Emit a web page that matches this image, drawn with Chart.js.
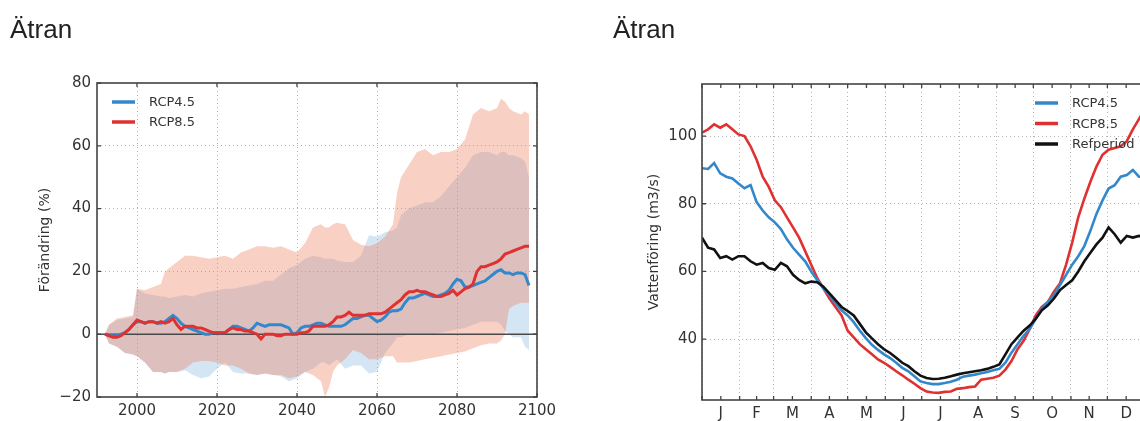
<!DOCTYPE html>
<html><head><meta charset="utf-8">
<script src="https://cdn.jsdelivr.net/npm/chart.js@4.4.0/dist/chart.umd.min.js"></script>
<style>
html,body{margin:0;padding:0;background:#fff;width:1140px;height:421px;overflow:hidden;position:relative;}
.title{position:absolute;font-family:'Liberation Sans',Arial,sans-serif;font-size:26px;line-height:26px;color:#222;top:16px;}
#w1{position:absolute;left:0;top:0;width:600px;height:421px;}
#w2{position:absolute;left:600px;top:0;width:560px;height:421px;}
</style></head><body>
<div id="w1"><canvas id="c1" width="600" height="421"></canvas></div>
<div id="w2"><canvas id="c2" width="560" height="421"></canvas></div>
<div class="title" style="left:10px">Ätran</div>
<div class="title" style="left:613px">Ätran</div>
<script>
// ---------- Left chart data (Förändring %) ----------
const years = [1992,1993,1994,1995,1996,1997,1998,1999,
 2000,2001,2002,2003,2004,2005,2006,2007,2008,2009,
 2010,2011,2012,2013,2014,2015,2016,2017,2018,2019,
 2020,2021,2022,2023,2024,2025,2026,2027,2028,2029,
 2030,2031,2032,2033,2034,2035,2036,2037,2038,2039,
 2040,2041,2042,2043,2044,2045,2046,2047,2048,2049,
 2050,2051,2052,2053,2054,2055,2056,2057,2058,2059,
 2060,2061,2062,2063,2064,2065,2066,2067,2068,2069,
 2070,2071,2072,2073,2074,2075,2076,2077,2078,2079,
 2080,2081,2082,2083,2084,2085,2086,2087,2088,2089,
 2090,2091,2092,2093,2094,2095,2096,2097,2098];
const rcp45 = [0,-0.3,-0.5,-0.5,0,0.5,1.5,3,
 4,4,3.5,4,4,3.5,3.5,4,5,6,
 5,3.5,2.5,2,1.5,1,0.5,0,0,0.5,
 0.5,0.5,0.5,1.5,2.5,2.5,2,1.5,1,2,
 3.5,3,2.5,3,3,3,3,2.5,2,0,
 0.5,2,2.5,2.5,3,3.5,3.5,3,2.5,2.5,
 2.5,2.5,3,4,5,5,5.5,6,6,5,
 4,4.5,5.5,7,7.5,7.5,8,10,11.5,11.5,
 12,12.5,13,12.5,12,12,12.5,13,14,16,
 17.5,17,15,15,15.5,16,16.5,17,18,19,
 20,20.5,19.5,19.5,19,19.5,19.5,19,15.5];
const rcp85 = [0,-0.5,-1,-1,-0.5,0.5,1.5,3,
 4.5,4,3.5,4,4,3.5,4,3.5,4,5,
 3,1.5,2.5,2.5,2.5,2,2,1.5,1,0.5,
 0.5,0.5,0.5,1.5,2,1.5,1.5,1,1,0.5,
 0,-1.5,0,0,0,-0.5,-0.5,0,0,0,
 0,0.5,0.5,1,2.5,2.5,2.5,2.5,3,4,
 5.5,5.5,6,7,6,6,6,6,6.5,6.5,
 6.5,6.5,7,8,9,10,11,12.5,13.5,13.5,
 14,13.5,13.5,13,12.5,12,12,12.5,13,14,
 12.5,13.5,14.5,15,16,20,21.5,21.5,22,22.5,
 23,24,25.5,26,26.5,27,27.5,28,28];
const bandYears = [1992,1993,1995,1997,1999,
 2000,2002,2004,2006,2007,2008,
 2010,2012,2014,2016,2018,
 2020,2022,2024,2026,2028,
 2030,2032,2034,2036,2038,
 2040,2042,2044,2046,2047,2048,2049,
 2050,2052,2054,2056,2058,
 2060,2062,2064,2065,2066,2068,
 2070,2072,2074,2076,2078,
 2080,2082,2084,2086,2088,
 2090,2091,2092,2093,2094,2096,2097,2098];
const band85Upper = [0,3,5,5.5,6, 14.5,14,15,16,20,21, 23,25,25,24.5,24, 24.5,25,24,26,27, 28,28,27.5,28,27, 26,29,34,35,34,34,35, 35.5,35,30,28.5,28, 29,31,35,45,50,54, 58,59,57,58,58, 59,62,70,72,71, 72,75,74,72,71,70,71,70];
const band85Lower = [0,-3,-4,-6,-6.5, -7,-9,-12,-12,-12.5,-12, -12,-11,-9,-8.5,-8.5, -9,-10,-10,-11,-12.5, -13,-12.5,-13,-13,-14, -13.5,-12,-13,-15,-20,-17,-12, -10,-8,-5,-6,-8, -8,-7,-7,-9,-9,-9, -8.5,-8,-7.5,-7,-6.5, -6,-5.5,-4.5,-3.5,-3, -3,-2,0,8,9,10,10,10];
const band45Upper = [0,3,4.5,5,5.5, 14.5,13,12.5,12,12,11.5, 12,12.5,12,13,13.5, 14,14.5,14.5,15,15.5, 16,17,17,19,21, 22,24,25,24.5,24,24,24, 23.5,23,23,25,31.5, 31,32.5,33,34,38,40, 41,42,42,44,47, 50,53,57,58,58, 57,58,58,57,57,56,55,50];
const band45Lower = [0,-3,-4,-6,-6.5, -7,-9,-12,-12,-12.5,-12, -12,-11.5,-13,-14,-13.5, -11,-9,-12,-12.5,-12.5, -13,-12.5,-13,-13.5,-15, -14,-12,-11,-9,-9,-10,-9, -8,-11,-10,-10,-12.5, -12,-6,-3,-1,-1,0, 0,0,0,0.5,1, 1.5,2,3,4,4, 4,3,1,0,-1,-1,-4,-5];
const yearTicks = [2000,2020,2040,2060,2080,2100];
const pctTicks = [-20,0,20,40,60,80];
const yearRange = [1990,2100];

// ---------- Right chart data (Vattenföring m3/s) ----------
const days = [0,5,10,15,20,25,30,35,40,45,50,55,60,65,70,75,80,85,90,95,
 100,105,110,115,120,125,130,135,140,145,150,155,160,165,170,175,180,185,190,195,
 200,205,210,215,220,225,230,235,240,245,250,255,260,265,270,275,280,285,290,295,
 300,305,310,315,320,325,330,335,340,345,350,355,360,365];
const flow45 = [90.5,90.3,92,89,88,87.5,86,84.6,85.5,80.5,
 78,76,74.5,72.5,69.5,67,65,63,60,57.4,
 55,53,50.6,48.5,47,45,42.5,40.3,38.3,36.8,
 35.5,34.4,33,31.5,30.5,29,27.5,27,26.7,26.7,
 27,27.4,28,28.9,29.2,29.5,29.9,30.3,30.8,31.2,
 33,36,38.5,41,43,46,49,51,53,56,
 59,62,64.5,67.5,72,77,81,84.5,85.5,88,
 88.5,90,88,88];
const flow85 = [101,102,103.5,102.5,103.5,102,100.5,100,97,93,
 88,85,81,79,76,73,70,66,62,58,
 55,52,49.5,47,42.5,40.5,38.5,37,35.5,34,
 33,31.8,30.5,29.3,28,26.8,25.5,24.5,24.2,24.1,
 24.4,24.5,25.3,25.5,25.8,26,28,28.3,28.6,29.2,
 31,33.5,37,39.5,43,47,49.5,51,54,56.5,
 62,68.5,76,81.5,86.5,91,94.5,96,96.5,97,
 98.5,102,105,108];
const flowRef = [70,67,66.5,64,64.5,63.5,64.5,64.5,63,62,
 62.5,61,60.5,62.5,61.5,59,57.5,56.5,57,56.8,
 55.5,53.5,51.5,49.5,48.3,47,44.5,42,40.2,38.5,
 37,35.9,34.5,33,32,30.5,29.2,28.5,28.2,28.3,
 28.6,29,29.5,29.9,30.2,30.5,30.8,31.2,31.8,32.5,
 35.5,38.5,40.5,42.5,44,46,48.5,50,52,54.5,
 56,57.4,60,63,65.5,68,70,73,71,68.5,
 70.5,70,70.5,70];
const monthStarts = [0,31,59,90,120,151,181,212,243,273,304,334,365];
const monthLabels = ['J','F','M','A','M','J','J','A','S','O','N','D'];
const flowTicks = [40,60,80,100];
const flowRange = [22,115.4];

// ---------- helpers ----------
const pts = (xs, ys) => xs.map((x, i) => ({x: x, y: ys[i]}));
Chart.defaults.font.family = "'DejaVu Sans', sans-serif";
Chart.defaults.color = '#333';

const framePlugin = {
  id: 'frame',
  afterDatasetsDraw(chart) {
    const ctx = chart.ctx, a = chart.chartArea;
    ctx.save();
    ctx.strokeStyle = '#444'; ctx.lineWidth = 1.3;
    const xs = chart.scales.x, ys = chart.scales.y;
    ctx.beginPath();
    xs.ticks.forEach(t => {
      const px = xs.getPixelForValue(t.value);
      ctx.moveTo(px, a.bottom); ctx.lineTo(px, a.bottom - 4);
      ctx.moveTo(px, a.top); ctx.lineTo(px, a.top + 4);
    });
    ys.ticks.forEach(t => {
      const py = ys.getPixelForValue(t.value);
      ctx.moveTo(a.left, py); ctx.lineTo(a.left + 4, py);
      ctx.moveTo(a.right, py); ctx.lineTo(a.right - 4, py);
    });
    ctx.stroke();
    ctx.lineWidth = 1.6;
    ctx.strokeRect(a.left, a.top, a.right - a.left, a.bottom - a.top);
    ctx.restore();
  }
};
const legendPlugin = {
  id: 'insideLegend',
  afterDraw(chart, args, o) {
    const ctx = chart.ctx, a = chart.chartArea;
    ctx.save();
    ctx.font = "13px 'DejaVu Sans'";
    ctx.textBaseline = 'middle';
    let y = a.top + o.dy;
    const x = a.left + o.dx;
    chart.data.datasets.forEach(ds => {
      if (!ds.inLegend) return;
      ctx.strokeStyle = ds.borderColor; ctx.lineWidth = 3.5;
      ctx.beginPath(); ctx.moveTo(x, y); ctx.lineTo(x + 23, y); ctx.stroke();
      ctx.fillStyle = '#333';
      ctx.fillText(ds.label, x + 37, y + 1);
      y += o.row;
    });
    ctx.restore();
  }
};
const gridCommon = {color: '#b5b5b5', lineWidth: 1, drawTicks: false};
const borderCommon = {display: false, dash: [1, 3]};
const tickFont = {size: 15};

// ---------- Left chart ----------
new Chart(document.getElementById('c1'), {
  type: 'line',
  data: {datasets: [
    {label: 'RCP4.5', data: pts(years, rcp45), borderColor: '#3388cc', borderWidth: 3, pointRadius: 0, fill: false, order: 1, inLegend: true},
    {label: 'RCP8.5', data: pts(years, rcp85), borderColor: '#e03131', borderWidth: 3, pointRadius: 0, fill: false, order: 0, inLegend: true},
    {label: 'zero', data: pts(yearRange, [0, 0]), borderColor: '#4a4a4a', borderWidth: 1.5, pointRadius: 0, fill: false, order: 2},
    {label: 'b85u', data: pts(bandYears, band85Upper), borderWidth: 0, borderColor: 'rgba(0,0,0,0)', pointRadius: 0, fill: '+1', backgroundColor: 'rgba(238,125,92,0.36)', order: 3},
    {label: 'b85l', data: pts(bandYears, band85Lower), borderWidth: 0, borderColor: 'rgba(0,0,0,0)', pointRadius: 0, fill: false, order: 3},
    {label: 'b45u', data: pts(bandYears, band45Upper), borderWidth: 0, borderColor: 'rgba(0,0,0,0)', pointRadius: 0, fill: '+1', backgroundColor: 'rgba(100,160,215,0.28)', order: 4},
    {label: 'b45l', data: pts(bandYears, band45Lower), borderWidth: 0, borderColor: 'rgba(0,0,0,0)', pointRadius: 0, fill: false, order: 4}
  ]},
  options: {
    responsive: false, animation: false,
    layout: {padding: {left: 0, right: 63, top: 83, bottom: 0}},
    plugins: {legend: {display: false}, tooltip: {enabled: false}, insideLegend: {dx: 15, dy: 19, row: 20}},
    scales: {
      x: {type: 'linear', min: yearRange[0], max: yearRange[1],
        afterBuildTicks: s => { s.ticks = yearTicks.map(v => ({value: v})); },
        afterFit: s => { s.height = 24; },
        grid: gridCommon, border: borderCommon,
        ticks: {font: tickFont, color: '#333', padding: 5, maxRotation: 0, autoSkip: false, callback: v => String(v)}},
      y: {type: 'linear', min: pctTicks[0], max: pctTicks[pctTicks.length - 1],
        afterBuildTicks: s => { s.ticks = pctTicks.map(v => ({value: v})); },
        afterFit: s => { s.width = 97; },
        grid: gridCommon, border: borderCommon,
        title: {display: true, text: 'Förändring (%)', font: {size: 14}, color: '#333', padding: {top: 37, bottom: 0}},
        ticks: {font: tickFont, color: '#333', padding: 6, callback: v => String(v).replace('-', '\u2212')}}
    }
  },
  plugins: [framePlugin, legendPlugin]
});

// ---------- Right chart ----------
const monthCenters = monthLabels.map((m, i) => (monthStarts[i] + monthStarts[i + 1]) / 2);
const xTickVals = monthStarts.concat(monthCenters).sort((a, b) => a - b);
new Chart(document.getElementById('c2'), {
  type: 'line',
  data: {datasets: [
    {label: 'RCP4.5', data: pts(days, flow45), borderColor: '#3388cc', borderWidth: 2.6, pointRadius: 0, fill: false, order: 1, inLegend: true},
    {label: 'RCP8.5', data: pts(days, flow85), borderColor: '#e03131', borderWidth: 2.6, pointRadius: 0, fill: false, order: 2, inLegend: true},
    {label: 'Refperiod', data: pts(days, flowRef), borderColor: '#111111', borderWidth: 2.6, pointRadius: 0, fill: false, order: 0, inLegend: true}
  ]},
  options: {
    responsive: false, animation: false,
    layout: {padding: {left: 0, right: 15, top: 84, bottom: 0}},
    plugins: {legend: {display: false}, tooltip: {enabled: false}, insideLegend: {dx: 333, dy: 19, row: 20.5}},
    scales: {
      x: {type: 'linear', min: 0, max: 365,
        afterBuildTicks: s => { s.ticks = xTickVals.map(v => ({value: v})); },
        afterFit: s => { s.height = 21; },
        grid: {color: ctx => (ctx.tick && monthStarts.includes(ctx.tick.value)) ? '#b5b5b5' : 'rgba(0,0,0,0)', lineWidth: 1, drawTicks: false},
        border: borderCommon,
        ticks: {font: tickFont, color: '#333', padding: 5, maxRotation: 0, autoSkip: false,
          callback: v => { const i = monthCenters.indexOf(v); return i >= 0 ? monthLabels[i] : ''; }}},
      y: {type: 'linear', min: flowRange[0], max: flowRange[1],
        afterBuildTicks: s => { s.ticks = flowTicks.map(v => ({value: v})); },
        afterFit: s => { s.width = 102; },
        grid: gridCommon, border: borderCommon,
        title: {display: true, text: 'Vattenföring (m3/s)', font: {size: 14}, color: '#333', padding: {top: 46, bottom: 0}},
        ticks: {font: tickFont, color: '#333', padding: 5}}
    }
  },
  plugins: [framePlugin, legendPlugin]
});
</script>
</body></html>
